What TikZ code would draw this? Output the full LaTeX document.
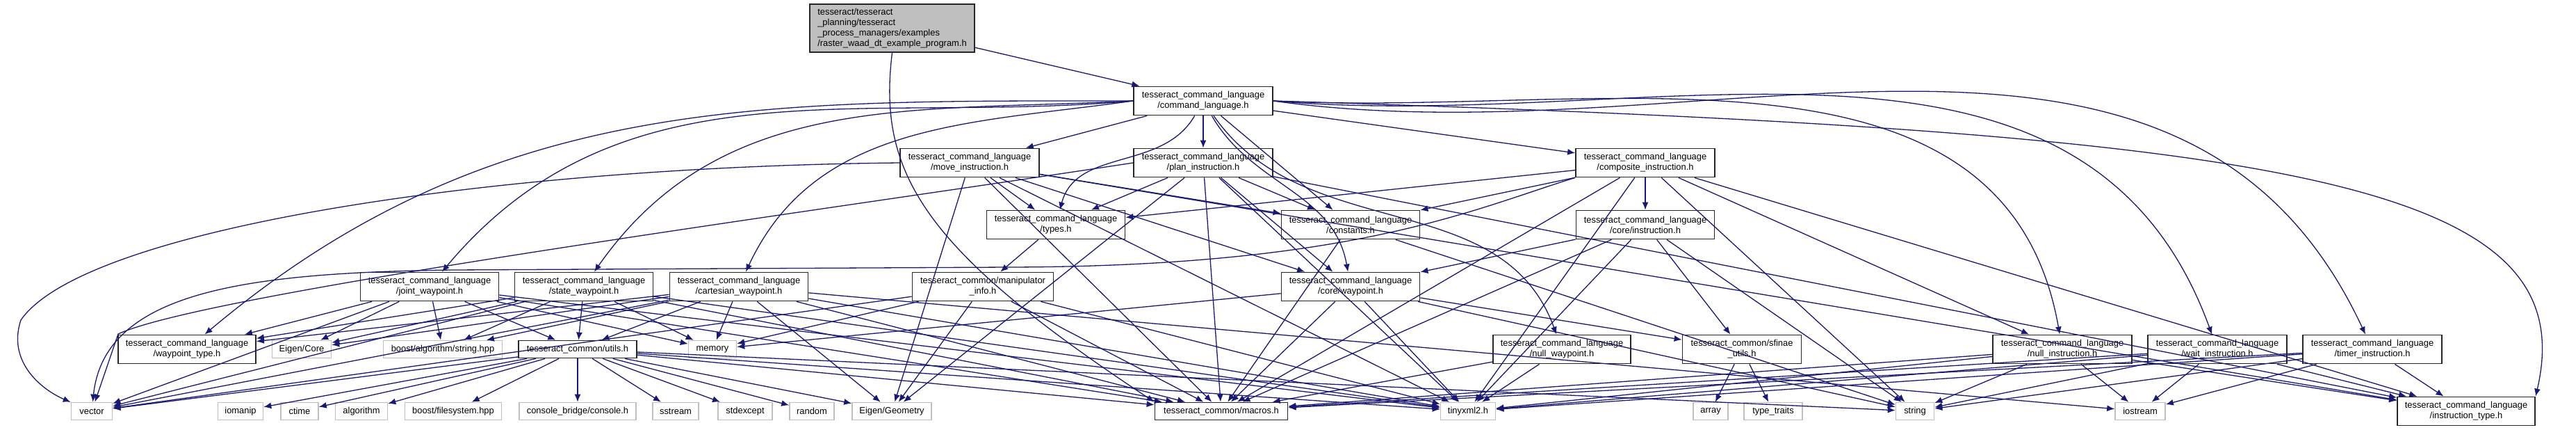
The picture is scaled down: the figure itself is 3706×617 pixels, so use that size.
\documentclass[tikz,border=0pt]{standalone}
\usepackage{fontspec}
\setmainfont{Liberation Sans}
\usetikzlibrary{arrows.meta}
\definecolor{edgeblue}{HTML}{191970}
\definecolor{greyline}{HTML}{BFBFBF}
\begin{document}
\begin{tikzpicture}[x=0.5pt,y=-0.5pt,
  base/.style={draw, fill=white, inner sep=0pt, align=center,
    font=\fontsize{6.45}{7.5}\selectfont},
  doc/.style={base, draw=black!85, line width=0.9pt, minimum height=20.5pt},
  docone/.style={base, draw=black!85, line width=0.9pt, minimum height=12.5pt},
  sys/.style={base, draw=greyline, line width=0.8pt, minimum height=12.5pt},
  rootnode/.style={base, align=left, inner xsep=5.5pt, draw=black!85, line width=0.9pt, fill=greyline, minimum height=34.8pt},
  edge/.style={draw=edgeblue, line width=0.65pt, -{Latex[length=5.5pt,width=4.5pt]}}]
\useasboundingbox (0,0) rectangle (3706,617);
% row 0
\node[rootnode, minimum width=117.5pt] (root) at (1283.5,40.5) {tesseract/tesseract\\\_planning/tesseract\\\_process\_managers/examples\\/raster\_waad\_dt\_example\_program.h};
% row 1
\node[doc, minimum width=100pt] (cmd) at (1731,145) {tesseract\_command\_language\\/command\_language.h};
% row 2
\node[doc, minimum width=100pt] (move) at (1395,234) {tesseract\_command\_language\\/move\_instruction.h};
\node[doc, minimum width=100pt] (plan) at (1731,234) {tesseract\_command\_language\\/plan\_instruction.h};
\node[doc, minimum width=100pt] (composite) at (2367,234) {tesseract\_command\_language\\/composite\_instruction.h};
% row 3
\node[doc, minimum width=99.5pt] (types) at (1519,323) {tesseract\_command\_language\\/types.h};
\node[doc, minimum width=99.5pt] (constants) at (1943,323) {tesseract\_command\_language\\/constants.h};
\node[doc, minimum width=99.5pt] (coreinstr) at (2367,323) {tesseract\_command\_language\\/core/instruction.h};
% row 4
\node[doc, minimum width=99.5pt] (joint) at (618,412) {tesseract\_command\_language\\/joint\_waypoint.h};
\node[doc, minimum width=99.5pt] (state) at (840,412) {tesseract\_command\_language\\/state\_waypoint.h};
\node[doc, minimum width=99.5pt] (cart) at (1063,412) {tesseract\_command\_language\\/cartesian\_waypoint.h};
\node[doc, minimum width=101.5pt] (manip) at (1414,412) {tesseract\_common/manipulator\\\_info.h};
\node[doc, minimum width=99.5pt] (corewp) at (1943,412) {tesseract\_command\_language\\/core/waypoint.h};
% row 5
\node[doc, minimum width=99pt] (wptype) at (269,502) {tesseract\_command\_language\\/waypoint\_type.h};
\node[sys, minimum width=42.5pt] (eigencore) at (434,502) {Eigen/Core};
\node[sys, minimum width=85.5pt] (booststr) at (637,502) {boost/algorithm/string.hpp};
\node[docone, minimum width=85pt] (utils) at (831,502) {tesseract\_common/utils.h};
\node[sys, minimum width=34.5pt] (memory) at (1025,502) {memory};
\node[doc, minimum width=99pt] (nullwp) at (2247,502) {tesseract\_command\_language\\/null\_waypoint.h};
\node[doc, minimum width=85.5pt] (sfinae) at (2506,502) {tesseract\_common/sfinae\\\_utils.h};
\node[doc, minimum width=100pt] (nullinstr) at (2967,502) {tesseract\_command\_language\\/null\_instruction.h};
\node[doc, minimum width=100pt] (wait) at (3190,502) {tesseract\_command\_language\\/wait\_instruction.h};
\node[doc, minimum width=100pt] (timer) at (3413,502) {tesseract\_command\_language\\/timer\_instruction.h};
% row 6
\node[sys, minimum width=29.5pt] (vector) at (132,591) {vector};
\node[sys, minimum width=32.5pt] (iomanip) at (346,591) {iomanip};
\node[sys, minimum width=27pt] (ctime) at (431,591) {ctime};
\node[sys, minimum width=37.5pt] (algorithm) at (520,591) {algorithm};
\node[sys, minimum width=69.5pt] (boostfs) at (652,591) {boost/filesystem.hpp};
\node[sys, minimum width=84pt] (console) at (831,591) {console\_bridge/console.h};
\node[sys, minimum width=33pt] (sstream) at (972,591) {sstream};
\node[sys, minimum width=39pt] (stdexcept) at (1072,591) {stdexcept};
\node[sys, minimum width=32pt] (random) at (1168,591) {random};
\node[sys, minimum width=57pt] (eigengeom) at (1283,591) {Eigen/Geometry};
\node[docone, minimum width=95.5pt] (macros) at (1757,591) {tesseract\_common/macros.h};
\node[sys, minimum width=39.5pt] (tinyxml) at (2112,591) {tinyxml2.h};
\node[sys, minimum width=25pt] (array) at (2461,591) {array};
\node[sys, minimum width=42pt] (typetraits) at (2551,591) {type\_traits};
\node[sys, minimum width=27.5pt] (string) at (2755,591) {string};
\node[sys, minimum width=36pt] (iostream) at (3079,591) {iostream};
\node[doc, minimum width=99pt] (insttype) at (3548,591) {tesseract\_command\_language\\/instruction\_type.h};
% ---- edges
\draw[edge] (root) -- (cmd);
\draw[edge] (root.south) .. controls (1262,250) and (1330,360) .. (macros.north west);
% command_language.h
\foreach \t in {move,plan,composite,constants} \draw[edge] (cmd) -- (\t);
\draw[edge] (cmd) to[out=-120,in=75] (types);
\draw[edge] (cmd) to[out=-60,in=100] (corewp);
\draw[edge] (cmd) to[out=-55,in=110] (nullwp);
\draw[edge] (cmd.west) to[out=185,in=50] (joint);
\draw[edge] (cmd.west) to[out=183,in=55] (state);
\draw[edge] (cmd.west) to[out=188,in=65] (cart);
\draw[edge] (cmd.west) to[out=180,in=40] (wptype);
\draw[edge] (cmd.east) to[out=-3,in=100] (nullinstr);
\draw[edge] (cmd.east) to[out=-5,in=110] (wait);
\draw[edge] (cmd.east) to[out=-8,in=115] (timer);
\draw[edge] (cmd.east) .. controls (3300,190) and (3720,260) .. (insttype.north east);
% move_instruction.h
\draw[edge] (move.west) .. controls (700,240) and (120,330) .. (30,460) .. controls (10,520) and (60,560) .. (vector);
\foreach \t in {types,corewp,macros,tinyxml,eigengeom,insttype,constants} \draw[edge] (move) -- (\t);
% plan_instruction.h
\foreach \t in {types,constants,corewp,macros,tinyxml,eigengeom,insttype} \draw[edge] (plan) -- (\t);
\draw[edge] (plan.west) .. controls (1200,300) and (300,420) .. (170,480) -- (vector);
% composite_instruction.h
\foreach \t in {types,constants,coreinstr,macros,nullinstr,insttype,string,tinyxml} \draw[edge] (composite) -- (\t);
\draw[edge] (composite.south west) .. controls (2120,300) and (1950,383) .. (1450,384) -- (650,388) .. controls (350,392) and (150,420) .. (vector);
% core/instruction.h
\foreach \t in {corewp,macros,sfinae,tinyxml,string} \draw[edge] (coreinstr) -- (\t);
% core/waypoint.h
\foreach \t in {macros,tinyxml,sfinae,string,memory} \draw[edge] (corewp) -- (\t);
\draw[edge] (types) -- (manip);
\foreach \t in {macros,string} \draw[edge] (constants) -- (\t);
\foreach \t in {eigengeom,macros,tinyxml,vector,memory} \draw[edge] (manip) -- (\t);
\foreach \t in {macros,tinyxml} \draw[edge] (nullwp) -- (\t);
\foreach \t in {array,typetraits} \draw[edge] (sfinae) -- (\t);
\foreach \s in {nullinstr,wait,timer} {
  \foreach \t in {macros,tinyxml,string,iostream,insttype} \draw[edge] (\s) -- (\t);
}
\foreach \s in {joint,state,cart} {
  \foreach \t in {vector,wptype,eigencore,booststr,utils,memory,macros,tinyxml} \draw[edge] (\s) -- (\t);
}
\foreach \t in {eigengeom,iostream} \draw[edge] (cart) -- (\t);
\foreach \t in {vector,iomanip,ctime,algorithm,boostfs,console,sstream,stdexcept,random,eigengeom,macros,tinyxml,string} \draw[edge] (utils) -- (\t);
\end{tikzpicture}
\end{document}
